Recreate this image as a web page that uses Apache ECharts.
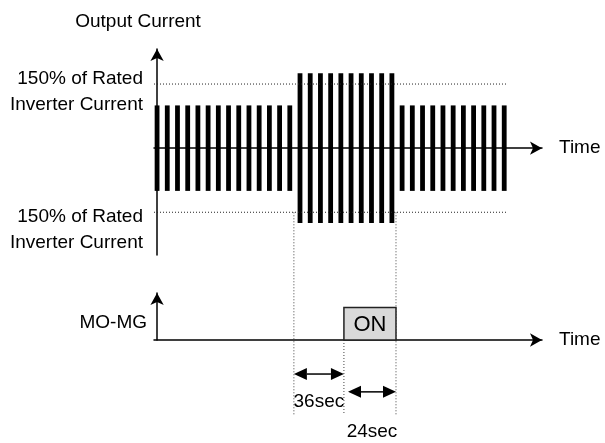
<!DOCTYPE html>
<html>
<head>
<meta charset="utf-8">
<script src="https://cdn.jsdelivr.net/npm/echarts@6.0.0/dist/echarts.min.js"></script>
<style>
  html, body { margin: 0; padding: 0; background: #fff; }
  #main { width: 605px; height: 443px; }
</style>
</head>
<body>
<div id="main"></div>
<script>
// output current pulses (amplitude, % of rated), one per pulse
var currentAmp = [
  100, 100, 100, 100, 100, 100, 100, 100, 100, 100, 100, 100, 100, 100,
  175, 175, 175, 175, 175, 175, 175, 175, 175, 175,
  100, 100, 100, 100, 100, 100, 100, 100, 100, 100, 100
];
var ratedLimit = [150, -150];
var ratedLabel = '150% of Rated\nInverter Current';
// event times on the pulse scale: overload start, MO-MG on, overload end
var eventTimes = [13.4, 18.3, 23.4];
var onWindow = [18.3, 23.4];
var onLevel = 1;
var spanLabels = ['36sec', '24sec'];
var spanFrom = [13.4, 18.7];
var spanTo = [18.3, 23.4];

var FONT = 'Arial, "Liberation Sans", sans-serif';
var X_MIN = -0.3, X_MAX = 37.7;

// layout helpers (bottom grid units)
var guideTop = [3.94, 0, 3.94];
var guideBottom = -2.31;
var spanArrowY = [-1.05, -1.6];
var spanLabelY = [-1.9, -2.83];
var ratedTextShift = [8, 17.5];

var myChart = echarts.init(document.getElementById('main'));

function xAxisCfg(gridIndex) {
  return {
    type: 'value', gridIndex: gridIndex, min: X_MIN, max: X_MAX,
    name: 'Time', nameLocation: 'end', nameGap: 17,
    nameTextStyle: { color: '#000', fontSize: 19, fontFamily: FONT, verticalAlign: 'middle' },
    axisLine: {
      show: true, onZero: true, symbol: ['none', 'arrow'], symbolSize: [10, 12],
      lineStyle: { color: '#000', width: 1.5 }
    },
    axisTick: { show: false }, axisLabel: { show: false }, splitLine: { show: false }
  };
}

var option = {
  animation: false,
  grid: [
    { left: 154, right: 63, top: 49, height: 206 },
    { left: 154, right: 63, top: 293, height: 47 }
  ],
  xAxis: [xAxisCfg(0), xAxisCfg(1)],
  yAxis: [
    {
      type: 'value', gridIndex: 0, min: -250, max: 232,
      name: 'Output Current', nameLocation: 'end', nameGap: 18,
      nameTextStyle: { color: '#000', fontSize: 19, fontFamily: FONT, align: 'center', padding: [0, 38, 0, 0] },
      axisLine: {
        show: true, symbol: ['none', 'arrow'], symbolSize: [10, 12],
        lineStyle: { color: '#000', width: 1.5 }
      },
      axisTick: { show: false }, axisLabel: { show: false }, splitLine: { show: false }
    },
    {
      type: 'value', gridIndex: 1, min: 0, max: 1.45,
      axisLine: {
        show: true, symbol: ['none', 'arrow'], symbolSize: [10, 12],
        lineStyle: { color: '#000', width: 1.5 }
      },
      axisTick: { show: false },
      axisLabel: {
        show: true, customValues: [0.52], margin: 7,
        formatter: function () { return 'MO-MG'; },
        color: '#000', fontSize: 19, fontFamily: FONT
      },
      splitLine: { show: false }
    }
  ],
  series: [
    {
      // pulses
      type: 'custom', xAxisIndex: 0, yAxisIndex: 0,
      data: currentAmp.map(function (a, i) { return [i, a]; }),
      renderItem: function (params, api) {
        var top = api.coord([api.value(0), api.value(1)]);
        var bot = api.coord([api.value(0), -api.value(1)]);
        return {
          type: 'rect',
          shape: { x: top[0] - 2.4, y: top[1], width: 4.8, height: bot[1] - top[1] },
          style: { fill: '#000' }
        };
      }
    },
    {
      // 150% lines and labels
      type: 'custom', xAxisIndex: 0, yAxisIndex: 0,
      data: ratedLimit.map(function (v) { return [v]; }),
      renderItem: function (params, api) {
        var v = api.value(0);
        var p0 = api.coord([X_MIN, v]);
        var p1 = api.coord([currentAmp.length - 1 + 0.25, v]);
        return {
          type: 'group',
          children: [
            {
              type: 'line',
              shape: { x1: p0[0], y1: p0[1], x2: p1[0], y2: p1[1] },
              style: { stroke: '#222', lineWidth: 1, lineDash: [1, 2] }
            },
            {
              type: 'text', x: p0[0] - 11, y: p0[1] + ratedTextShift[params.dataIndex],
              style: {
                text: ratedLabel, align: 'right', verticalAlign: 'middle',
                fontSize: 19, fontFamily: FONT, lineHeight: 26, fill: '#000'
              }
            }
          ]
        };
      }
    },
    {
      // guides
      type: 'custom', xAxisIndex: 1, yAxisIndex: 1,
      data: eventTimes.map(function (t) { return [t]; }),
      renderItem: function (params, api) {
        var t = api.value(0);
        var a = api.coord([t, guideTop[params.dataIndex]]);
        var b = api.coord([t, guideBottom]);
        return {
          type: 'line',
          shape: { x1: a[0], y1: a[1], x2: b[0], y2: b[1] },
          style: { stroke: '#444', lineWidth: 1, lineDash: [1, 2] }
        };
      }
    },
    {
      // ON box
      type: 'custom', xAxisIndex: 1, yAxisIndex: 1,
      data: [[onWindow[0], onWindow[1], onLevel]],
      renderItem: function (params, api) {
        var a = api.coord([api.value(0), api.value(2)]);
        var b = api.coord([api.value(1), 0]);
        return {
          type: 'group',
          children: [
            {
              type: 'rect',
              shape: { x: a[0], y: a[1], width: b[0] - a[0], height: b[1] - a[1] },
              style: { fill: '#d9d9d9', stroke: '#222', lineWidth: 1.5 }
            },
            {
              type: 'text', x: (a[0] + b[0]) / 2, y: (a[1] + b[1]) / 2 + 1,
              style: { text: 'ON', align: 'center', verticalAlign: 'middle', fontSize: 22, fontFamily: FONT, fill: '#000' }
            }
          ]
        };
      }
    },
    {
      // span arrows
      type: 'custom', xAxisIndex: 1, yAxisIndex: 1,
      data: spanFrom.map(function (f, i) { return [f, spanTo[i]]; }),
      renderItem: function (params, api) {
        var i = params.dataIndex;
        var a = api.coord([api.value(0), spanArrowY[i]]);
        var b = api.coord([api.value(1), spanArrowY[i]]);
        var lab = api.coord([(api.value(0) + api.value(1)) / 2, spanLabelY[i]]);
        var L = 13, H = 6;
        return {
          type: 'group',
          children: [
            { type: 'line', shape: { x1: a[0] + L, y1: a[1], x2: b[0] - L, y2: b[1] }, style: { stroke: '#000', lineWidth: 1.5 } },
            { type: 'polygon', shape: { points: [[a[0], a[1]], [a[0] + L, a[1] - H], [a[0] + L, a[1] + H]] }, style: { fill: '#000' } },
            { type: 'polygon', shape: { points: [[b[0], b[1]], [b[0] - L, b[1] - H], [b[0] - L, b[1] + H]] }, style: { fill: '#000' } },
            {
              type: 'text', x: lab[0], y: lab[1],
              style: { text: spanLabels[i], align: 'center', verticalAlign: 'middle', fontSize: 19, fontFamily: FONT, fill: '#000' }
            }
          ]
        };
      }
    }
  ]
};
myChart.setOption(option);
window.addEventListener('resize', function () {
  myChart.resize();
});
</script>
</body>
</html>
